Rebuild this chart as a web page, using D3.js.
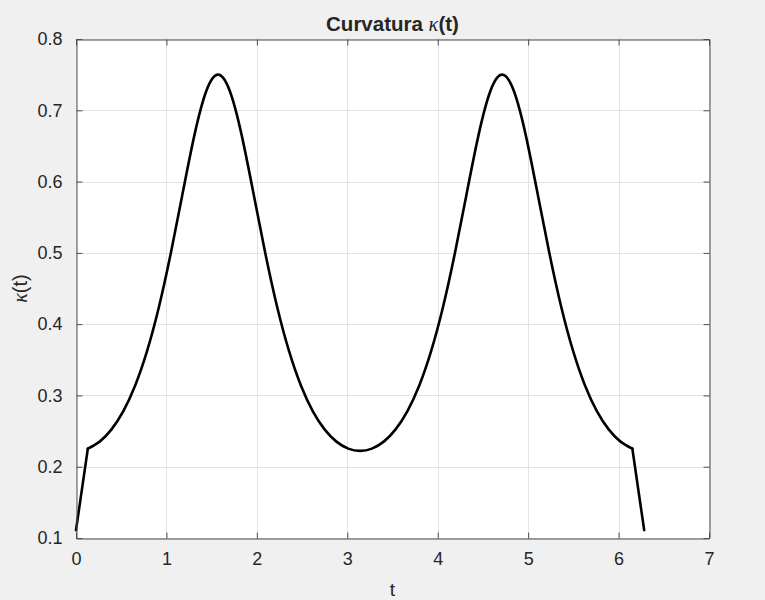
<!DOCTYPE html>
<html>
<head>
<meta charset="utf-8">
<script src="https://cdn.jsdelivr.net/npm/d3@7"></script>
<style>
  html, body { margin: 0; padding: 0; background: #f0f0f0; }
  svg { display: block; }
  text { font-family: "Liberation Sans", Arial, Helvetica, sans-serif; fill: #262626; }
</style>
</head>
<body>
<svg id="chart" width="765" height="600"></svg>
<script>
const tValues = [0, 0.1309, 0.2618, 0.3927, 0.5236, 0.6545, 0.7854, 0.9163, 1.0472, 1.1781, 1.3090, 1.4399, 1.5708,
  1.7017, 1.8326, 1.9635, 2.0944, 2.2253, 2.3562, 2.4871, 2.6180, 2.7489, 2.8798, 3.0107, 3.1416,
  3.2725, 3.4034, 3.5343, 3.6652, 3.7961, 3.9270, 4.0579, 4.1888, 4.3197, 4.4506, 4.5815, 4.7124,
  4.8433, 4.9742, 5.1051, 5.2360, 5.3669, 5.4978, 5.6287, 5.7596, 5.8905, 6.0214, 6.1523, 6.2832];
const kappaValues = [0.111, 0.2254, 0.2352, 0.2524, 0.2781, 0.3140, 0.3621, 0.4237, 0.4988, 0.5828, 0.6648, 0.7267, 0.7500,
  0.7267, 0.6648, 0.5828, 0.4988, 0.4237, 0.3621, 0.3140, 0.2781, 0.2524, 0.2352, 0.2254, 0.2222,
  0.2254, 0.2352, 0.2524, 0.2781, 0.3140, 0.3621, 0.4237, 0.4988, 0.5828, 0.6648, 0.7267, 0.7500,
  0.7267, 0.6648, 0.5828, 0.4988, 0.4237, 0.3621, 0.3140, 0.2781, 0.2524, 0.2352, 0.2254, 0.111];
const xTicks = [0, 1, 2, 3, 4, 5, 6, 7];
const yTicks = [0.1, 0.2, 0.3, 0.4, 0.5, 0.6, 0.7, 0.8];
const titleText = "Curvatura ";
const xLabel = "t";

const svg = d3.select("#chart");
const L = 76, R = 709, T = 39, B = 538;
const x = d3.scaleLinear().domain([0, 7]).range([L, R]);
const y = d3.scaleLinear().domain([0.1, 0.8]).range([B, T]);

svg.append("rect").attr("x", L).attr("y", T).attr("width", R - L).attr("height", B - T).attr("fill", "#ffffff");

// grid
const g = svg.append("g");
g.selectAll("line.vx").data(xTicks).join("line")
  .attr("x1", d => Math.round(x(d)) + 0.5).attr("x2", d => Math.round(x(d)) + 0.5)
  .attr("y1", T).attr("y2", B).attr("stroke", "#e3e3e3").attr("stroke-width", 1);
g.selectAll("line.hy").data(yTicks).join("line")
  .attr("y1", d => Math.round(y(d)) + 0.5).attr("y2", d => Math.round(y(d)) + 0.5)
  .attr("x1", L).attr("x2", R).attr("stroke", "#e3e3e3").attr("stroke-width", 1);

// curve: straight end segments, smooth interior
const pts = tValues.map((t, i) => [t, kappaValues[i]]);
const n = pts.length;
const curveG = svg.append("g").attr("fill", "none").attr("stroke", "#000")
  .attr("stroke-width", 2.6).attr("stroke-linejoin", "round").attr("stroke-linecap", "round");
const straight = d3.line().x(d => x(d[0])).y(d => y(d[1]));
const smooth = d3.line().x(d => x(d[0])).y(d => y(d[1])).curve(d3.curveNatural);
curveG.append("path").attr("d", straight(pts.slice(0, 2)));
curveG.append("path").attr("d", smooth(pts.slice(1, n - 1)));
curveG.append("path").attr("d", straight(pts.slice(n - 2)));

// axes (box with inward ticks)
const axColor = "#4d4d4d";
const fs = "18px";
const axBottom = svg.append("g").attr("transform", `translate(0,${B + 0.5})`)
  .call(d3.axisBottom(x).tickValues(xTicks).tickFormat(d3.format("d")).tickSizeInner(-6).tickSizeOuter(0).tickPadding(14));
const axTop = svg.append("g").attr("transform", `translate(0,${T + 0.5})`)
  .call(d3.axisTop(x).tickValues(xTicks).tickFormat("").tickSizeInner(-6).tickSizeOuter(0));
const axLeft = svg.append("g").attr("transform", `translate(${L + 0.5},0)`)
  .call(d3.axisLeft(y).tickValues(yTicks).tickFormat(d3.format(".1f")).tickSizeInner(-6).tickSizeOuter(0).tickPadding(14));
const axRight = svg.append("g").attr("transform", `translate(${R + 0.5},0)`)
  .call(d3.axisRight(y).tickValues(yTicks).tickFormat("").tickSizeInner(-6).tickSizeOuter(0));
[axBottom, axTop, axLeft, axRight].forEach(a => {
  a.select(".domain").attr("stroke", axColor);
  a.selectAll(".tick line").attr("stroke", axColor);
  a.selectAll(".tick text").attr("font-size", fs).attr("fill", "#262626")
    .attr("font-family", '"Liberation Sans", Arial, Helvetica, sans-serif');
});

// title
const title = svg.append("text").attr("x", (L + R) / 2).attr("y", 31)
  .attr("text-anchor", "middle").attr("font-size", "20.5px").attr("font-weight", "bold").attr("fill", "#000");
title.append("tspan").text(titleText);
title.append("tspan").attr("font-style", "italic").attr("font-family", '"Liberation Serif", serif').attr("font-weight", "normal").text("κ");
title.append("tspan").text("(t)");

// x label
svg.append("text").attr("x", (L + R) / 2).attr("y", 596).attr("text-anchor", "middle")
  .attr("font-size", "19px").text(xLabel);

// y label
const yl = svg.append("text").attr("transform", `translate(27,${(T + B) / 2}) rotate(-90)`)
  .attr("text-anchor", "middle").attr("font-size", "20px");
yl.append("tspan").attr("font-style", "italic").attr("font-family", '"Liberation Serif", serif').text("κ");
yl.append("tspan").text("(t)");
</script>
</body>
</html>
